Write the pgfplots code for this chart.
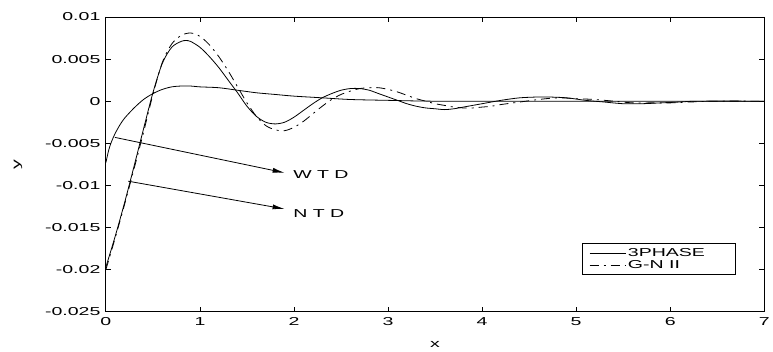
\documentclass[border=0pt]{standalone}
\usepackage{fontspec}
\setmainfont{Liberation Sans}
\usepackage{graphicx}
\usepackage{pgfplots}
\pgfplotsset{compat=1.18}
\usetikzlibrary{arrows.meta}
\newcommand\st[1]{\scalebox{1.7}[1]{#1}}
\begin{document}
\begin{tikzpicture}
\begin{axis}[
  scale only axis,
  width=659bp, height=295bp,
  xmin=0, xmax=7, ymin=-0.025, ymax=0.01,
  xtick={0,1,2,3,4,5,6,7},
  xticklabels={\st{0},\st{1},\st{2},\st{3},\st{4},\st{5},\st{6},\st{7}},
  ytick={-0.025,-0.02,-0.015,-0.01,-0.005,0,0.005,0.01},
  yticklabels={\st{-0.025},\st{-0.02},\st{-0.015},\st{-0.01},\st{-0.005},\st{0},\st{0.005},\st{0.01}},
  scaled y ticks=false,
  tick align=inside,
  major tick length=5bp,
  ticklabel style={font=\fontsize{11.5bp}{13bp}\selectfont},
  xticklabel style={yshift=-2bp},
  yticklabel style={xshift=-2bp},
  xlabel={\st{x}}, ylabel={\st{y}},
  label style={font=\fontsize{11.5bp}{13bp}\selectfont},
  xlabel style={at={(axis description cs:0.5,-0.112)}, anchor=center},
  ylabel style={at={(axis description cs:-0.1335,0.5)}, anchor=center},
  axis line style={line width=0.8bp},
  every tick/.style={line width=0.8bp, black},
  legend style={at={(axis cs:5.06,-0.0169)}, anchor=north west, draw=black, line width=0.8bp,
    font=\fontsize{11.5bp}{12bp}\selectfont, row sep=-2bp, inner xsep=7bp, inner ysep=3bp,
    cells={anchor=west}},
  legend image code/.code={\draw[#1] (0bp,0bp) -- (36bp,0bp);},
]
% WTD curve
\addplot[black, line width=0.8bp, smooth, forget plot] coordinates {
(0,-0.0073) (0.03,-0.0058) (0.06,-0.0048) (0.1,-0.0038) (0.15,-0.0028) (0.2,-0.0020)
(0.3,-0.0008) (0.4,0.0002) (0.5,0.0009) (0.6,0.0014) (0.7,0.0017) (0.8,0.0018)
(0.9,0.0018) (1.0,0.0017) (1.2,0.0016) (1.4,0.0013) (1.6,0.0010) (1.8,0.0008)
(2.0,0.0006) (2.3,0.0004) (2.6,0.0002) (3.0,0.0001) (3.5,0.0) (4.5,0) (7,0)};
% NTD 3PHASE
\addplot[black, line width=0.8bp, smooth] coordinates {
(0,-0.0197) (0.1,-0.0160) (0.2,-0.0120) (0.3,-0.0077) (0.4,-0.0033) (0.5,0.0010)
(0.6,0.0045) (0.7,0.0064) (0.8,0.0071) (0.85,0.0072) (0.9,0.0071) (1.0,0.0064)
(1.1,0.0053) (1.2,0.0040) (1.3,0.0025) (1.4,0.0010) (1.5,-0.0006) (1.6,-0.0018)
(1.7,-0.0025) (1.8,-0.0027) (1.9,-0.0025) (2.0,-0.0019) (2.1,-0.0011) (2.2,-0.0003)
(2.3,0.0004) (2.4,0.0009) (2.5,0.0013) (2.6,0.0015) (2.7,0.0015) (2.8,0.0013)
(2.9,0.0009) (3.0,0.0005) (3.1,0.0001) (3.2,-0.0003) (3.3,-0.0006) (3.4,-0.0008)
(3.5,-0.0009) (3.6,-0.0010) (3.7,-0.0009) (3.8,-0.0007) (3.9,-0.0005) (4.0,-0.0003)
(4.2,0.0001) (4.4,0.0004) (4.6,0.0005) (4.7,0.0005) (4.9,0.0004) (5.1,0.0001)
(5.3,-0.0001) (5.5,-0.0003) (5.7,-0.0003) (5.9,-0.0002) (6.1,-0.0001) (6.3,0.0) (7,0)};
\addlegendentry{\st{3PHASE}\hspace*{21bp}}
% NTD G-N II
\addplot[black, line width=0.8bp, smooth, dash pattern=on 9bp off 5bp on 2bp off 5bp] coordinates {
(0,-0.0200) (0.1,-0.0162) (0.2,-0.0122) (0.3,-0.0080) (0.4,-0.0037) (0.5,0.0008)
(0.6,0.0046) (0.7,0.0068) (0.8,0.0078) (0.9,0.0081) (1.0,0.0077) (1.1,0.0067)
(1.2,0.0053) (1.3,0.0036) (1.4,0.0017) (1.5,-0.0002) (1.6,-0.0018) (1.7,-0.0029)
(1.8,-0.0034) (1.9,-0.0035) (2.0,-0.0031) (2.1,-0.0024) (2.2,-0.0015) (2.3,-0.0006)
(2.4,0.0002) (2.5,0.0008) (2.6,0.0012) (2.7,0.0015) (2.8,0.0016) (2.9,0.0016)
(3.0,0.0014) (3.1,0.0011) (3.2,0.0007) (3.3,0.0003) (3.4,0.0000) (3.5,-0.0003)
(3.6,-0.0005) (3.7,-0.0007) (3.8,-0.0008) (3.9,-0.0008) (4.0,-0.0007) (4.1,-0.0006)
(4.2,-0.0004) (4.4,-0.0001) (4.6,0.0002) (4.8,0.0004) (5.0,0.0003) (5.2,0.0002)
(5.4,0.0000) (5.6,-0.0002) (5.8,-0.0002) (6.0,-0.0002) (6.2,-0.0001) (6.5,0.0) (7,0)};
\addlegendentry{\st{G-N II}}
% annotations
\draw[line width=0.8bp, -{Latex[length=12bp,width=5bp]}] (axis cs:0.096,-0.0043) -- (axis cs:1.90,-0.0085);
\draw[line width=0.8bp, -{Latex[length=12bp,width=5bp]}] (axis cs:0.237,-0.0095) -- (axis cs:1.90,-0.0128);
\node[anchor=west, inner sep=0pt, font=\fontsize{11.5bp}{13bp}\selectfont] at (axis cs:1.99,-0.0087) {\st{W T D}};
\node[anchor=west, inner sep=0pt, font=\fontsize{11.5bp}{13bp}\selectfont] at (axis cs:1.99,-0.0133) {\st{N T D}};
\end{axis}
\path (current axis.south west) ++(-106bp,-40bp) rectangle ++(773bp,352bp);
\end{tikzpicture}
\end{document}
